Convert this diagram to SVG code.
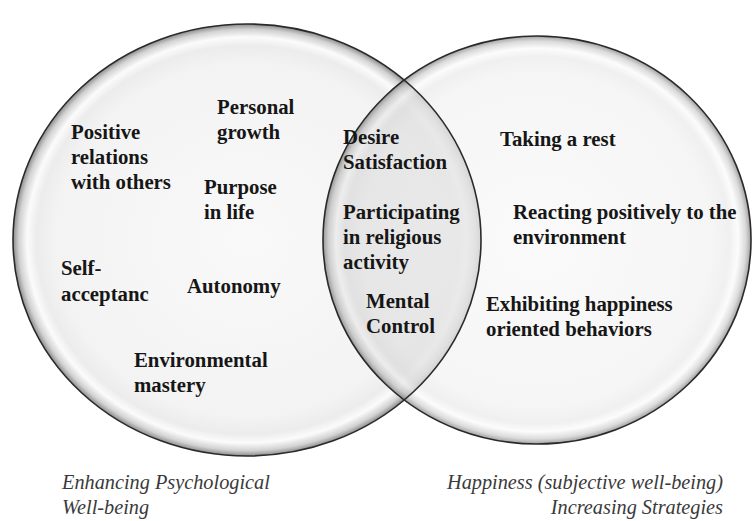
<svg xmlns="http://www.w3.org/2000/svg" width="756" height="521" viewBox="0 0 756 521">
  <defs>
    <!-- glassy bevel fill for the two sets -->
    <radialGradient id="bevel" cx="0.5" cy="0.5" r="0.5">
      <stop offset="0" stop-color="#f9f9f9"/>
      <stop offset="0.82" stop-color="#f3f3f3"/>
      <stop offset="0.9" stop-color="#ececec"/>
      <stop offset="0.94" stop-color="#fbfbfb"/>
      <stop offset="0.975" stop-color="#d2d2d2"/>
      <stop offset="1" stop-color="#8c8c8c"/>
    </radialGradient>
    <clipPath id="clip-left">
      <ellipse cx="247" cy="240" rx="234" ry="216"/>
    </clipPath>
  </defs>
  <style>
    .set { fill: url(#bevel); }
    .rim { fill: none; stroke: #2a2a2a; stroke-width: 1.6; }
    .lbl { font-family: "Liberation Serif", "Times New Roman", serif; font-weight: bold; font-size: 20.8px; fill: #161616; }
    .cap { font-family: "Liberation Serif", "Times New Roman", serif; font-style: italic; font-size: 20.3px; fill: #3a3a3a; }
  </style>

  <!-- set shapes -->
  <g id="set-left">
    <ellipse class="set" cx="247" cy="240" rx="234" ry="216"/>
  </g>
  <g id="set-right">
    <ellipse class="set" cx="537" cy="240" rx="214" ry="204" fill-opacity="0.8"/>
  </g>
  <!-- overlap darkening -->
  <g id="overlap" clip-path="url(#clip-left)">
    <ellipse cx="537" cy="240" rx="214" ry="204" fill="#000" fill-opacity="0.05"/>
  </g>
  <g id="outlines">
    <ellipse class="rim" cx="247" cy="240" rx="234" ry="216"/>
    <ellipse class="rim" cx="537" cy="240" rx="214" ry="204"/>
  </g>

  <!-- left set items -->
  <g id="personal-growth">
    <text class="lbl" x="217" y="114">Personal</text>
    <text class="lbl" x="217" y="139">growth</text>
  </g>
  <g id="positive-relations">
    <text class="lbl" x="71" y="139">Positive</text>
    <text class="lbl" x="71" y="164">relations</text>
    <text class="lbl" x="71" y="189">with others</text>
  </g>
  <g id="purpose-in-life">
    <text class="lbl" x="204" y="194">Purpose</text>
    <text class="lbl" x="204" y="219">in life</text>
  </g>
  <g id="self-acceptance">
    <text class="lbl" x="61" y="275">Self-</text>
    <text class="lbl" x="61" y="301">acceptanc</text>
  </g>
  <g id="autonomy">
    <text class="lbl" x="187" y="293">Autonomy</text>
  </g>
  <g id="environmental-mastery">
    <text class="lbl" x="134" y="367">Environmental</text>
    <text class="lbl" x="134" y="392">mastery</text>
  </g>

  <!-- shared items -->
  <g id="desire-satisfaction">
    <text class="lbl" x="343" y="144">Desire</text>
    <text class="lbl" x="343" y="169">Satisfaction</text>
  </g>
  <g id="religious-activity">
    <text class="lbl" x="343" y="219">Participating</text>
    <text class="lbl" x="343" y="244">in religious</text>
    <text class="lbl" x="343" y="269">activity</text>
  </g>
  <g id="mental-control">
    <text class="lbl" x="366" y="308">Mental</text>
    <text class="lbl" x="366" y="333">Control</text>
  </g>

  <!-- right set items -->
  <g id="taking-rest">
    <text class="lbl" x="500" y="146">Taking a rest</text>
  </g>
  <g id="reacting-positively">
    <text class="lbl" x="513" y="219">Reacting positively to the</text>
    <text class="lbl" x="513" y="244">environment</text>
  </g>
  <g id="happiness-behaviors">
    <text class="lbl" x="486" y="311">Exhibiting happiness</text>
    <text class="lbl" x="486" y="336">oriented behaviors</text>
  </g>

  <!-- set captions -->
  <g id="caption-left">
    <text class="cap" x="62" y="489">Enhancing Psychological</text>
    <text class="cap" x="62" y="514">Well-being</text>
  </g>
  <g id="caption-right">
    <text class="cap" x="723" y="489" text-anchor="end">Happiness (subjective well-being)</text>
    <text class="cap" x="723" y="514" text-anchor="end">Increasing Strategies</text>
  </g>
</svg>
